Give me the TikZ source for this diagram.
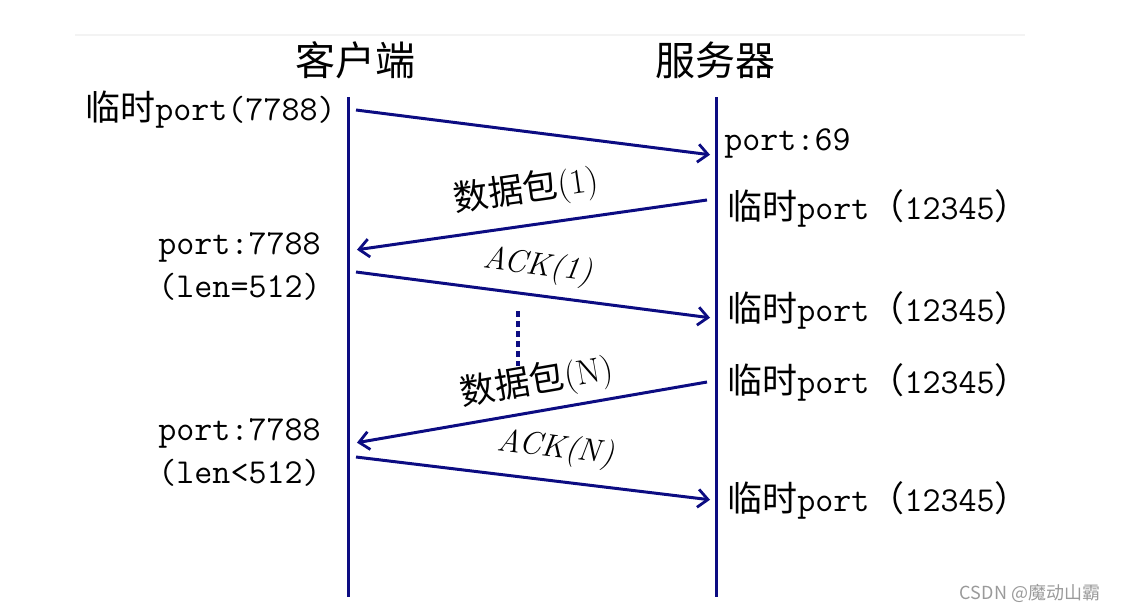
\documentclass[tikz,border=0pt]{standalone}
\usepackage{fontspec}
\newfontfamily\cjk{Noto Sans CJK SC}
\usetikzlibrary{arrows.meta,positioning}
\definecolor{navy}{HTML}{0C0C82}
\definecolor{rulegray}{HTML}{F3F3F3}
\definecolor{markgray}{HTML}{9A9A9A}

\tikzset{
  life/.style={navy,line width=1.5pt},
  msg/.style={navy,line width=1.5pt,shorten >=1pt,
    -{Straight Barb[length=5pt,width=9pt,line width=1.4pt]}},
  head/.style={font=\fontsize{20}{24}\selectfont\cjk,inner sep=0pt},
  portlbl/.style={font=\fontsize{17.5}{21.5}\selectfont\ttfamily,inner sep=0pt},
  msglbl/.style={font=\fontsize{16}{18}\selectfont,text=black,inner sep=0pt,sloped},
  datalbl/.style={msglbl,font=\fontsize{17.5}{20}\selectfont}
}

\begin{document}
\begin{tikzpicture}[x=0.5pt,y=-0.5pt]
      \useasboundingbox (0,0) rectangle (1123,612);
      \draw[rulegray,line width=1pt] (75,35) -- (1025,35);
      % lifelines
      \node[head] (client) at (355,60) {客户端};
      \node[head] (server) at (715,60) {服务器};
      \coordinate (ctop) at (348,97);
      \coordinate (cbot) at (348,597);
      \coordinate (stop) at (716,97);
      \coordinate (sbot) at (716,597);
      \draw[life] (ctop) -- (cbot);
      \draw[life] (stop) -- (sbot);
      % message end points
      \coordinate (c1) at (356,110);
      \coordinate (s1) at (712,155);
      \coordinate (s2) at (707,200);
      \coordinate (c2) at (355,250);
      \coordinate (c3) at (356,272);
      \coordinate (s3) at (712,318);
      \coordinate (s4) at (707,382);
      \coordinate (c4) at (355,443);
      \coordinate (c5) at (356,457);
      \coordinate (s5) at (712,500);
      % messages
      \draw[msg] (s2) -- node[datalbl,above=7pt] (data1) {{\cjk 数据包}(1)} (c2);
      \draw[msg] (c1) -- (s1);
      \draw[msg] (c3) -- node[msglbl,above=5.5pt] (ack1) {\itshape ACK(1)} (s3);
      \draw[msg] (s4) -- node[datalbl,above=4pt,pos=0.47] (dataN) {{\cjk 数据包}(N)} (c4);
      \draw[msg] (c5) -- node[msglbl,above=7pt,pos=0.55] (ackN) {\itshape ACK(N)} (s5);
      % dots
      \coordinate (dtop) at (518,311);
      \coordinate (dbot) at (518,366);
      \draw[navy,line width=2pt,dash pattern=on 3pt off 2pt] (dtop) -- (dbot);
      % client side
      \node[portlbl,anchor=east] (tmpc) at (336,110) {{\cjk 临时}port(7788)};
      \node[portlbl,anchor=west,align=left] (recv1) at (158,266) {port:7788\\(len=512)};
      \node[portlbl,anchor=west,align=left] (recvN) at (158,452) {port:7788\\(len<512)};
      % server side
      \node[portlbl,anchor=west] (p69) at (724,143) {port:69};
      \node[portlbl,anchor=west] (tmps1) at (727,208) {{\cjk 临时}port{\cjk （}12345{\cjk ）}};
      \node[portlbl,anchor=west] (tmps2) at (727,310) {{\cjk 临时}port{\cjk （}12345{\cjk ）}};
      \node[portlbl,anchor=west] (tmps3) at (727,382) {{\cjk 临时}port{\cjk （}12345{\cjk ）}};
      \node[portlbl,anchor=west] (tmps4) at (727,500) {{\cjk 临时}port{\cjk （}12345{\cjk ）}};
      \node[font=\fontsize{9}{11}\selectfont\cjk,markgray] (mark) at (1030,593) {CSDN @魔动山霸};
    \end{tikzpicture}
\end{document}
